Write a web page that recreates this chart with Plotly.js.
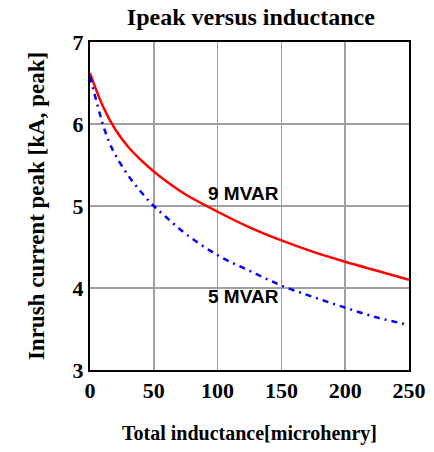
<!DOCTYPE html>
<html>
<head>
<meta charset="utf-8">
<script src="https://cdn.plot.ly/plotly-3.0.1.min.js"></script>
<style>html,body{margin:0;padding:0;background:#fff;}#chart{width:434px;height:452px;}</style>
</head>
<body>
<div id="chart"></div>
<script>
const redL = [0, 10, 20, 30, 40, 50, 60, 75, 100, 125, 150, 175, 200, 225, 250];
const redI = [6.62, 6.22, 5.93, 5.72, 5.56, 5.42, 5.30, 5.14, 4.93, 4.74, 4.58, 4.44, 4.32, 4.21, 4.10];
const blueL = [0, 5, 10, 15, 20, 30, 40, 50, 60, 75, 100, 125, 150, 175, 200, 225, 250];
const blueI = [6.58, 6.28, 6.00, 5.78, 5.62, 5.37, 5.17, 5.00, 4.86, 4.66, 4.40, 4.21, 4.03, 3.89, 3.76, 3.64, 3.55];
const labels = ["9 MVAR", "5 MVAR"];
const labelX = [120.5, 120];
const labelY = [5.15, 3.9];
const xTicks = [0, 50, 100, 150, 200, 250];
const yTicks = [3, 4, 5, 6, 7];

const serif = "Times New Roman";
const sans = "Liberation Sans";

const traces = [
  {x: redL, y: redI, mode: "lines", line: {color: "#ff0000", width: 2.5, shape: "spline"}, hoverinfo: "skip"},
  {x: blueL, y: blueI, mode: "lines", line: {color: "#0000ff", width: 2.5, dash: "6px,5px,2px,5px", shape: "spline"}, hoverinfo: "skip"}
];

const layout = {
  width: 434, height: 452,
  margin: {l: 90, r: 25, t: 42, b: 82},
  paper_bgcolor: "#fff", plot_bgcolor: "#fff",
  font: {family: serif, color: "#000", weight: "bold"},
  showlegend: false,
  title: {text: "Ipeak versus inductance", font: {family: serif, size: 24, color: "#000", weight: "bold"}, x: 0.578, xanchor: "center", y: 0.963, yanchor: "middle"},
  xaxis: {
    range: [0, 250], tickvals: xTicks, ticktext: xTicks.map(String),
    showgrid: true, gridcolor: "#a0a0a0", gridwidth: 1.5,
    showline: true, linecolor: "#000", linewidth: 2, mirror: true,
    ticks: "", zeroline: false,
    tickfont: {family: serif, size: 22, color: "#000", weight: "bold"},
    title: {text: "Total inductance[microhenry]", font: {family: serif, size: 20, color: "#000", weight: "bold"}, standoff: 24}
  },
  yaxis: {
    range: [3, 7], tickvals: yTicks, ticktext: yTicks.map(String),
    showgrid: true, gridcolor: "#a0a0a0", gridwidth: 1.5,
    showline: true, linecolor: "#000", linewidth: 2, mirror: true,
    ticks: "", zeroline: false,
    tickfont: {family: serif, size: 22, color: "#000", weight: "bold"},
    title: {text: "Inrush current peak [kA, peak]", font: {family: serif, size: 23, color: "#000", weight: "bold"}, standoff: 22}
  },
  annotations: labels.map((t, i) => ({
    x: labelX[i], y: labelY[i], xref: "x", yref: "y", text: t, showarrow: false,
    font: {family: sans, size: 19, color: "#000", weight: "bold"}
  }))
};

Plotly.newPlot("chart", traces, layout, {displayModeBar: false, staticPlot: true});
</script>
</body>
</html>
